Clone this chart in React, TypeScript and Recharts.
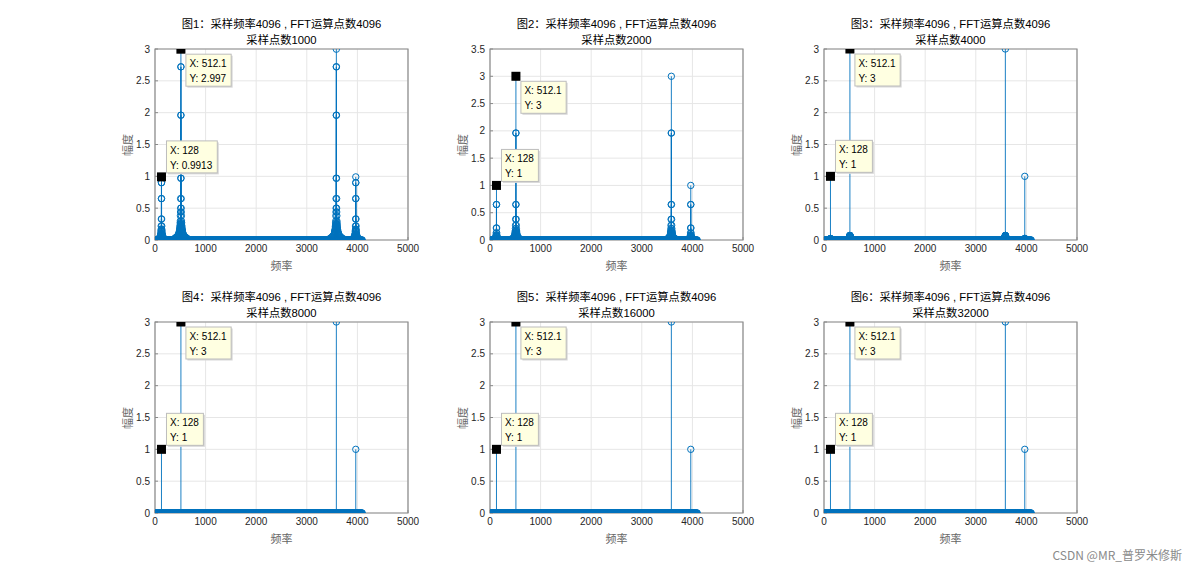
import React from 'react'
import {
  ComposedChart,
  Line,
  Scatter,
  XAxis,
  YAxis,
  CartesianGrid,
  ReferenceArea,
} from 'recharts'

// frequency axis
const xTicks = [0, 1000, 2000, 3000, 4000, 5000]
const yTicks3 = [0, 0.5, 1, 1.5, 2, 2.5, 3]
const yTicks35 = [0, 0.5, 1, 1.5, 2, 2.5, 3, 3.5]

// FFT bins (every 8th of 4096) where the spectrum is ~0
const baselineBins = Array.from({ length: 513 }, (_, i) => Math.min(i * 8, 4095))

// tones at 128 / 512 Hz and their mirrors
const peakFreqs = [128, 512.1, 3584, 3968]

const sampleCounts = [1000, 2000, 4000, 8000, 16000, 32000]

const peaks1 = [0.9913, 2.997, 2.997, 0.9913]
const peaksExact = [1, 3, 3, 1]

// leakage around each tone: [offset Hz, amplitude]
const bigLeak1: [number, number][] = [
  [1, 2.72], [2, 1.96], [3, 0.97], [5, 0.5], [6, 0.65], [7, 0.44], [9, 0.25],
  [10, 0.38], [11, 0.3], [13, 0.15], [14, 0.27], [15, 0.23], [17, 0.12],
  [18, 0.21], [19, 0.19], [22, 0.17], [23, 0.16], [26, 0.15], [27, 0.13],
  [30, 0.13], [31, 0.12], [35, 0.11], [39, 0.1], [44, 0.09], [50, 0.08],
  [58, 0.07], [68, 0.06], [80, 0.05], [96, 0.04], [120, 0.03],
]
const smallLeak1: [number, number][] = [
  [1, 0.9], [2, 0.65], [3, 0.33], [5, 0.17], [6, 0.22], [7, 0.15], [10, 0.13],
  [11, 0.1], [14, 0.09], [15, 0.08], [18, 0.07], [19, 0.06], [23, 0.05],
  [30, 0.04], [40, 0.03], [60, 0.02],
]
const bigLeak2: [number, number][] = [
  [1, 1.96], [2, 0.07], [3, 0.65], [4, 0.07], [5, 0.38], [6, 0.05], [7, 0.27],
  [9, 0.21], [11, 0.17], [13, 0.15], [15, 0.13], [17, 0.11], [20, 0.1],
  [24, 0.08], [30, 0.065], [40, 0.05], [55, 0.035], [75, 0.025],
]
const smallLeak2: [number, number][] = [
  [1, 0.65], [3, 0.22], [5, 0.13], [7, 0.09], [9, 0.07], [11, 0.06],
  [15, 0.04], [20, 0.03],
]
const bigLeak3: [number, number][] = [
  [1, 0.07], [2, 0.07], [3, 0.07], [4, 0.06], [6, 0.05], [8, 0.04], [12, 0.03],
]
const smallLeak3: [number, number][] = [[1, 0.025], [2, 0.02]]

const tipX = ['128', '512.1']
const tipY1 = ['0.9913', '2.997']
const tipYExact = ['1', '3']

type Fig = {
  n: number
  peaks: number[]
  big: [number, number][]
  small: [number, number][]
  tipY: string[]
  yMax: number
  yTicks: number[]
}

const figs: Fig[] = [
  { n: sampleCounts[0], peaks: peaks1, big: bigLeak1, small: smallLeak1, tipY: tipY1, yMax: 3, yTicks: yTicks3 },
  { n: sampleCounts[1], peaks: peaksExact, big: bigLeak2, small: smallLeak2, tipY: tipYExact, yMax: 3.5, yTicks: yTicks35 },
  { n: sampleCounts[2], peaks: peaksExact, big: bigLeak3, small: smallLeak3, tipY: tipYExact, yMax: 3, yTicks: yTicks3 },
  { n: sampleCounts[3], peaks: peaksExact, big: [], small: [], tipY: tipYExact, yMax: 3, yTicks: yTicks3 },
  { n: sampleCounts[4], peaks: peaksExact, big: [], small: [], tipY: tipYExact, yMax: 3, yTicks: yTicks3 },
  { n: sampleCounts[5], peaks: peaksExact, big: [], small: [], tipY: tipYExact, yMax: 3, yTicks: yTicks3 },
]

const BLUE = '#0072BD'
const AXIS = '#8a8a8a'
const FONT = '"Liberation Sans", Arial, "Noto Sans CJK SC", sans-serif'
const PLOT_W = 253
const PLOT_H = 191
const M_LEFT = 50
const M_TOP = 10
const panelLefts = [155, 490, 824]
const panelTops = [49, 322]

const charW: Record<string, number> = { X: 6.67, Y: 6.67, ':': 2.78, ' ': 2.78, '.': 2.78 }
const textWidth = (s: string) =>
  s.split('').reduce((w, c) => w + (charW[c] ?? 5.56), 0)

function buildPoints(fig: Fig) {
  const pts = baselineBins.map((x) => ({ x, y: 0 }))
  peakFreqs.forEach((f, i) => {
    const leak = i === 1 || i === 2 ? fig.big : fig.small
    pts.push({ x: f, y: fig.peaks[i] })
    leak.forEach(([d, v]) => {
      pts.push({ x: f - d, y: v })
      pts.push({ x: f + d, y: v })
    })
  })
  return pts
}

function buildStems(pts: { x: number; y: number }[]) {
  const out: { x: number; y: number | null }[] = []
  pts
    .filter((p) => p.y > 0)
    .forEach((p) => {
      out.push({ x: p.x, y: 0 }, { x: p.x, y: p.y }, { x: p.x, y: null })
    })
  return out
}

const OpenCircle = (props: any) => (
  <circle cx={props.cx} cy={props.cy} r={3.2} fill="none" stroke={BLUE} strokeWidth={1} />
)

const DataTip = (props: any) => {
  const { cx, cy, payload } = props
  const lines = [`X: ${payload.tx}`, `Y: ${payload.ty}`]
  const w = Math.max(...lines.map(textWidth)) + 8
  const h = 32
  const bx = cx + 5
  const by = payload.above ? cy - 4 - h : cy + 5
  return (
    <g>
      <rect x={cx - 4.5} y={cy - 4.5} width={9} height={9} fill="#000" />
      <rect x={bx + 1.5} y={by + 1.5} width={w} height={h} fill="#d8d8d8" />
      <rect x={bx} y={by} width={w} height={h} fill="#FFFFE1" stroke="#bdbdbd" strokeWidth={1} />
      <text x={bx + 3.5} y={by + 13} fontSize={10} fontFamily={FONT} fill="#000">
        {lines[0]}
      </text>
      <text x={bx + 3.5} y={by + 28} fontSize={10} fontFamily={FONT} fill="#000">
        {lines[1]}
      </text>
    </g>
  )
}

function Panel({ fig, idx }: { fig: Fig; idx: number }) {
  const left = panelLefts[idx % 3]
  const top = panelTops[Math.floor(idx / 3)]
  const pts = buildPoints(fig)
  const stems = buildStems(pts)
  const tips = [
    { x: peakFreqs[0], y: fig.peaks[0], tx: tipX[0], ty: fig.tipY[0], above: true },
    { x: peakFreqs[1], y: fig.peaks[1], tx: tipX[1], ty: fig.tipY[1], above: false },
  ]
  const tick = { fontSize: 10, fill: '#262626', fontFamily: FONT }
  const cx = left + PLOT_W / 2

  return (
    <>
      <div
        style={{
          position: 'absolute',
          left: cx - 150,
          width: 300,
          top: top - 33,
          textAlign: 'center',
          fontFamily: FONT,
          fontSize: 11.3,
          lineHeight: '16px',
          color: '#000',
          whiteSpace: 'nowrap',
        }}
      >
        <div>{`图${idx + 1}：采样频率4096 , FFT运算点数4096`}</div>
        <div>{`采样点数${fig.n}`}</div>
      </div>
      <div
        style={{
          position: 'absolute',
          left: left - 58,
          top: top + PLOT_H / 2 - 8,
          width: 60,
          height: 16,
          textAlign: 'center',
          transform: 'rotate(-90deg)',
          transformOrigin: '30px 8px',
          fontFamily: '"Noto Sans CJK SC", serif',
          fontSize: 11,
          lineHeight: '16px',
          color: '#666',
        }}
      >
        幅度
      </div>
      <div
        style={{
          position: 'absolute',
          left: cx - 30,
          width: 60,
          top: top + PLOT_H + 17,
          textAlign: 'center',
          fontFamily: '"Noto Sans CJK SC", serif',
          fontSize: 11,
          lineHeight: '16px',
          color: '#666',
        }}
      >
        频率
      </div>
      <div style={{ position: 'absolute', left: left - M_LEFT, top: top - M_TOP }}>
        <ComposedChart
          width={PLOT_W + M_LEFT + 14}
          height={PLOT_H + M_TOP + 30}
          margin={{ top: M_TOP, right: 14, left: 0, bottom: 0 }}
        >
          <CartesianGrid stroke="#e6e6e6" strokeWidth={1} />
          <XAxis
            type="number"
            dataKey="x"
            domain={[0, 5000]}
            ticks={xTicks}
            allowDataOverflow
            height={30}
            tick={tick}
            tickLine={{ stroke: AXIS }}
            axisLine={false}
            tickSize={-3}
            tickMargin={8}
          />
          <YAxis
            type="number"
            dataKey="y"
            domain={[0, fig.yMax]}
            ticks={fig.yTicks}
            allowDataOverflow
            width={M_LEFT}
            tick={tick}
            tickLine={{ stroke: AXIS }}
            axisLine={false}
            tickSize={-3}
            tickMargin={8}
          />
          <ReferenceArea
            x1={0}
            x2={5000}
            y1={0}
            y2={fig.yMax}
            fill="none"
            stroke={AXIS}
            strokeWidth={1.2}
          />
          <Line
            data={stems}
            dataKey="y"
            stroke={BLUE}
            strokeWidth={0.9}
            dot={false}
            activeDot={false}
            connectNulls={false}
            isAnimationActive={false}
          />
          <Scatter data={pts} dataKey="y" shape={OpenCircle} isAnimationActive={false} />
          <Scatter data={tips} dataKey="y" shape={DataTip} isAnimationActive={false} />
        </ComposedChart>
      </div>
    </>
  )
}

export default function App() {
  return (
    <div
      style={{
        position: 'absolute',
        left: 0,
        top: 0,
        width: 1192,
        height: 576,
        background: '#fff',
        overflow: 'hidden',
      }}
    >
      {figs.map((f, i) => (
        <Panel key={i} fig={f} idx={i} />
      ))}
      <div
        style={{
          position: 'absolute',
          right: 10,
          top: 546,
          fontFamily: '"Noto Sans CJK SC", sans-serif',
          fontSize: 12,
          color: '#8a8a8a',
        }}
      >
        CSDN @MR_普罗米修斯
      </div>
    </div>
  )
}
